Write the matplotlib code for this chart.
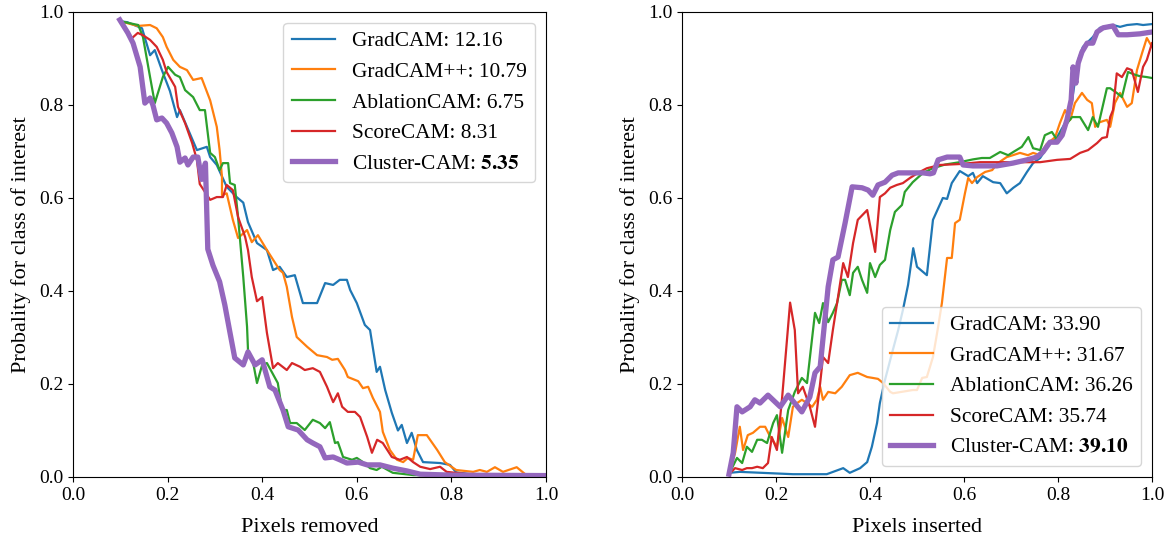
import matplotlib
matplotlib.use('Agg')
import matplotlib.pyplot as plt

# deletion curves (pixels removed)
del_gradcam_x = [0.10, 0.115, 0.146, 0.163, 0.173, 0.188, 0.205, 0.22, 0.226, 0.262, 0.283, 0.29, 0.304, 0.325, 0.346, 0.36, 0.37, 0.389, 0.41, 0.423, 0.437, 0.452, 0.469, 0.486, 0.516, 0.533, 0.55, 0.564, 0.579, 0.586, 0.60, 0.617, 0.628, 0.642, 0.649, 0.66, 0.674, 0.687, 0.695, 0.706, 0.716, 0.727, 0.74, 0.776, 0.797, 0.81, 0.85, 1.0]
del_gradcam_y = [0.98, 0.978, 0.965, 0.907, 0.918, 0.875, 0.83, 0.774, 0.789, 0.703, 0.71, 0.688, 0.671, 0.624, 0.602, 0.59, 0.548, 0.503, 0.488, 0.445, 0.452, 0.43, 0.434, 0.374, 0.374, 0.417, 0.413, 0.424, 0.424, 0.402, 0.374, 0.327, 0.316, 0.226, 0.237, 0.187, 0.138, 0.10, 0.112, 0.073, 0.095, 0.058, 0.032, 0.03, 0.026, 0.01, 0.005, 0.003]

del_gradcampp_x = [0.10, 0.137, 0.163, 0.177, 0.19, 0.198, 0.212, 0.226, 0.241, 0.254, 0.272, 0.29, 0.304, 0.31, 0.315, 0.315, 0.325, 0.338, 0.349, 0.368, 0.378, 0.391, 0.41, 0.437, 0.444, 0.452, 0.463, 0.473, 0.495, 0.516, 0.537, 0.548, 0.56, 0.575, 0.581, 0.603, 0.613, 0.624, 0.634, 0.649, 0.655, 0.67, 0.685, 0.698, 0.708, 0.719, 0.729, 0.748, 0.77, 0.786, 0.81, 0.846, 0.86, 0.875, 0.892, 0.909, 0.938, 0.956, 1.0]
del_gradcampp_y = [0.98, 0.97, 0.972, 0.965, 0.946, 0.925, 0.897, 0.882, 0.875, 0.854, 0.858, 0.81, 0.753, 0.703, 0.645, 0.606, 0.61, 0.553, 0.514, 0.531, 0.505, 0.52, 0.488, 0.445, 0.439, 0.409, 0.344, 0.301, 0.28, 0.262, 0.258, 0.252, 0.254, 0.23, 0.215, 0.206, 0.191, 0.194, 0.17, 0.14, 0.097, 0.058, 0.037, 0.032, 0.041, 0.037, 0.09, 0.09, 0.058, 0.032, 0.015, 0.011, 0.015, 0.011, 0.021, 0.011, 0.021, 0.006, 0.003]

del_ablation_x = [0.10, 0.138, 0.148, 0.163, 0.173, 0.19, 0.201, 0.216, 0.226, 0.237, 0.254, 0.268, 0.279, 0.29, 0.30, 0.31, 0.317, 0.328, 0.332, 0.342, 0.349, 0.36, 0.368, 0.37, 0.381, 0.389, 0.40, 0.41, 0.433, 0.442, 0.452, 0.459, 0.473, 0.49, 0.507, 0.522, 0.533, 0.543, 0.554, 0.56, 0.571, 0.59, 0.60, 0.613, 0.628, 0.642, 0.653, 0.676, 0.72, 1.0]
del_ablation_y = [0.98, 0.972, 0.946, 0.86, 0.804, 0.86, 0.882, 0.865, 0.86, 0.832, 0.817, 0.789, 0.789, 0.697, 0.688, 0.66, 0.675, 0.675, 0.632, 0.628, 0.559, 0.43, 0.323, 0.273, 0.245, 0.202, 0.241, 0.245, 0.202, 0.144, 0.144, 0.116, 0.116, 0.101, 0.123, 0.116, 0.105, 0.118, 0.073, 0.075, 0.043, 0.037, 0.041, 0.032, 0.019, 0.015, 0.022, 0.009, 0.004, 0.002]

del_score_x = [0.10, 0.125, 0.137, 0.148, 0.163, 0.177, 0.19, 0.198, 0.216, 0.222, 0.237, 0.252, 0.262, 0.268, 0.29, 0.304, 0.317, 0.325, 0.338, 0.349, 0.364, 0.37, 0.378, 0.389, 0.40, 0.41, 0.423, 0.433, 0.452, 0.463, 0.48, 0.49, 0.507, 0.522, 0.537, 0.55, 0.56, 0.569, 0.581, 0.596, 0.607, 0.622, 0.632, 0.643, 0.655, 0.674, 0.691, 0.706, 0.719, 0.734, 0.755, 0.776, 0.79, 0.818, 0.85, 1.0]
del_score_y = [0.98, 0.944, 0.955, 0.95, 0.94, 0.925, 0.897, 0.871, 0.839, 0.796, 0.761, 0.718, 0.682, 0.63, 0.596, 0.602, 0.602, 0.628, 0.617, 0.559, 0.516, 0.488, 0.43, 0.378, 0.387, 0.31, 0.234, 0.245, 0.23, 0.245, 0.237, 0.23, 0.234, 0.226, 0.194, 0.161, 0.18, 0.151, 0.14, 0.14, 0.129, 0.086, 0.052, 0.08, 0.073, 0.043, 0.037, 0.043, 0.032, 0.022, 0.017, 0.022, 0.011, 0.008, 0.004, 0.003]

del_cluster_x = [0.099, 0.116, 0.127, 0.142, 0.152, 0.163, 0.169, 0.177, 0.188, 0.198, 0.209, 0.22, 0.226, 0.237, 0.243, 0.254, 0.264, 0.272, 0.28, 0.285, 0.296, 0.31, 0.321, 0.332, 0.342, 0.36, 0.37, 0.385, 0.40, 0.416, 0.427, 0.444, 0.455, 0.476, 0.495, 0.507, 0.522, 0.533, 0.55, 0.564, 0.579, 0.603, 0.622, 0.649, 0.676, 0.706, 0.734, 0.8, 1.0]
del_cluster_y = [0.983, 0.955, 0.933, 0.882, 0.804, 0.815, 0.80, 0.768, 0.772, 0.761, 0.74, 0.71, 0.677, 0.686, 0.671, 0.688, 0.688, 0.64, 0.675, 0.49, 0.455, 0.42, 0.37, 0.31, 0.256, 0.241, 0.269, 0.241, 0.252, 0.194, 0.187, 0.144, 0.108, 0.101, 0.08, 0.073, 0.065, 0.041, 0.043, 0.037, 0.03, 0.032, 0.026, 0.026, 0.019, 0.013, 0.006, 0.004, 0.003]

# insertion curves (pixels inserted)
ins_gradcam_x = [0.102, 0.123, 0.236, 0.308, 0.343, 0.357, 0.379, 0.394, 0.404, 0.415, 0.421, 0.432, 0.447, 0.46, 0.47, 0.481, 0.492, 0.50, 0.521, 0.534, 0.555, 0.564, 0.574, 0.591, 0.609, 0.619, 0.628, 0.64, 0.662, 0.677, 0.691, 0.705, 0.719, 0.734, 0.747, 0.762, 0.783, 0.798, 0.819, 0.83, 0.843, 0.853, 0.874, 0.889, 0.917, 0.932, 0.947, 0.968, 0.981, 1.0]
ins_gradcam_y = [0.009, 0.011, 0.006, 0.006, 0.019, 0.009, 0.019, 0.032, 0.065, 0.116, 0.159, 0.209, 0.267, 0.316, 0.359, 0.413, 0.492, 0.452, 0.434, 0.553, 0.60, 0.598, 0.632, 0.658, 0.647, 0.654, 0.632, 0.647, 0.634, 0.632, 0.61, 0.622, 0.632, 0.656, 0.675, 0.686, 0.718, 0.731, 0.768, 0.811, 0.897, 0.925, 0.946, 0.966, 0.972, 0.968, 0.972, 0.974, 0.972, 0.974]

ins_gradcampp_x = [0.10, 0.113, 0.123, 0.13, 0.14, 0.151, 0.166, 0.177, 0.187, 0.202, 0.213, 0.226, 0.236, 0.245, 0.255, 0.266, 0.277, 0.287, 0.294, 0.30, 0.311, 0.326, 0.34, 0.357, 0.374, 0.394, 0.406, 0.417, 0.428, 0.443, 0.449, 0.491, 0.50, 0.511, 0.521, 0.534, 0.545, 0.553, 0.564, 0.574, 0.581, 0.591, 0.602, 0.609, 0.617, 0.628, 0.645, 0.66, 0.672, 0.691, 0.704, 0.719, 0.736, 0.747, 0.762, 0.775, 0.794, 0.804, 0.815, 0.826, 0.836, 0.851, 0.862, 0.872, 0.879, 0.889, 0.904, 0.911, 0.921, 0.932, 0.947, 0.957, 0.968, 0.979, 0.989, 1.0]
ins_gradcampp_y = [0.006, 0.052, 0.108, 0.058, 0.09, 0.095, 0.108, 0.108, 0.088, 0.065, 0.127, 0.086, 0.151, 0.159, 0.166, 0.159, 0.151, 0.166, 0.194, 0.166, 0.183, 0.18, 0.194, 0.219, 0.224, 0.215, 0.213, 0.211, 0.202, 0.183, 0.18, 0.187, 0.187, 0.213, 0.215, 0.258, 0.323, 0.374, 0.471, 0.471, 0.546, 0.553, 0.61, 0.643, 0.632, 0.645, 0.656, 0.66, 0.675, 0.688, 0.692, 0.697, 0.692, 0.697, 0.692, 0.715, 0.731, 0.761, 0.789, 0.768, 0.804, 0.826, 0.811, 0.804, 0.753, 0.763, 0.768, 0.753, 0.804, 0.826, 0.796, 0.804, 0.875, 0.912, 0.944, 0.925]

ins_ablation_x = [0.10, 0.117, 0.128, 0.138, 0.149, 0.16, 0.17, 0.181, 0.194, 0.202, 0.213, 0.226, 0.24, 0.255, 0.266, 0.283, 0.292, 0.30, 0.311, 0.321, 0.33, 0.34, 0.347, 0.357, 0.364, 0.374, 0.383, 0.394, 0.40, 0.411, 0.421, 0.432, 0.443, 0.453, 0.468, 0.474, 0.491, 0.513, 0.534, 0.56, 0.591, 0.619, 0.638, 0.655, 0.677, 0.694, 0.705, 0.723, 0.737, 0.747, 0.762, 0.772, 0.787, 0.798, 0.811, 0.83, 0.847, 0.864, 0.874, 0.885, 0.904, 0.911, 0.925, 0.936, 0.949, 0.964, 0.974, 0.989, 1.0]
ins_ablation_y = [0.006, 0.041, 0.03, 0.065, 0.054, 0.08, 0.08, 0.073, 0.116, 0.133, 0.052, 0.144, 0.183, 0.213, 0.202, 0.353, 0.331, 0.374, 0.333, 0.353, 0.374, 0.424, 0.424, 0.391, 0.439, 0.452, 0.424, 0.396, 0.46, 0.43, 0.456, 0.467, 0.531, 0.57, 0.585, 0.613, 0.634, 0.654, 0.664, 0.672, 0.677, 0.683, 0.686, 0.686, 0.699, 0.692, 0.699, 0.71, 0.731, 0.707, 0.703, 0.735, 0.742, 0.725, 0.75, 0.774, 0.774, 0.746, 0.774, 0.753, 0.836, 0.836, 0.826, 0.817, 0.871, 0.865, 0.862, 0.86, 0.858]

ins_score_x = [0.10, 0.113, 0.128, 0.138, 0.149, 0.16, 0.172, 0.183, 0.191, 0.202, 0.213, 0.23, 0.24, 0.247, 0.257, 0.272, 0.283, 0.294, 0.30, 0.311, 0.321, 0.332, 0.343, 0.353, 0.364, 0.374, 0.394, 0.411, 0.421, 0.432, 0.443, 0.457, 0.47, 0.485, 0.502, 0.521, 0.549, 0.591, 0.634, 0.704, 0.762, 0.798, 0.826, 0.847, 0.864, 0.883, 0.894, 0.904, 0.911, 0.917, 0.925, 0.936, 0.947, 0.957, 0.97, 0.981, 0.989, 1.0]
ins_score_y = [0.006, 0.019, 0.015, 0.019, 0.019, 0.022, 0.019, 0.03, 0.086, 0.058, 0.17, 0.375, 0.316, 0.18, 0.194, 0.151, 0.108, 0.202, 0.258, 0.245, 0.316, 0.387, 0.46, 0.43, 0.503, 0.553, 0.574, 0.484, 0.602, 0.61, 0.622, 0.628, 0.632, 0.643, 0.654, 0.664, 0.671, 0.673, 0.677, 0.677, 0.677, 0.682, 0.684, 0.697, 0.703, 0.718, 0.729, 0.731, 0.774, 0.789, 0.868, 0.86, 0.879, 0.875, 0.828, 0.882, 0.897, 0.933]

ins_cluster_x = [0.10, 0.109, 0.117, 0.128, 0.145, 0.155, 0.166, 0.183, 0.209, 0.226, 0.255, 0.272, 0.283, 0.294, 0.304, 0.311, 0.321, 0.332, 0.347, 0.362, 0.383, 0.396, 0.406, 0.417, 0.432, 0.447, 0.46, 0.485, 0.513, 0.528, 0.535, 0.545, 0.564, 0.591, 0.598, 0.619, 0.67, 0.704, 0.734, 0.755, 0.768, 0.783, 0.798, 0.809, 0.819, 0.828, 0.832, 0.838, 0.843, 0.851, 0.862, 0.874, 0.883, 0.896, 0.917, 0.928, 0.947, 0.974, 1.0]
ins_cluster_y = [0.006, 0.052, 0.151, 0.14, 0.151, 0.166, 0.159, 0.176, 0.151, 0.176, 0.14, 0.172, 0.224, 0.237, 0.338, 0.409, 0.467, 0.473, 0.546, 0.624, 0.622, 0.617, 0.606, 0.628, 0.634, 0.649, 0.654, 0.654, 0.654, 0.652, 0.654, 0.682, 0.688, 0.688, 0.671, 0.669, 0.669, 0.675, 0.682, 0.688, 0.699, 0.72, 0.72, 0.735, 0.768, 0.811, 0.882, 0.847, 0.89, 0.914, 0.933, 0.933, 0.957, 0.966, 0.97, 0.951, 0.951, 0.953, 0.957]

methods = ["GradCAM", "GradCAM++", "AblationCAM", "ScoreCAM", "Cluster-CAM"]
del_scores = ["12.16", "10.79", "6.75", "8.31", "5.35"]
ins_scores = ["33.90", "31.67", "36.26", "35.74", "39.10"]

colors = ["tab:blue", "tab:orange", "tab:green", "tab:red", "tab:purple"]

plt.rcParams['font.family'] = 'serif'
plt.rcParams['font.serif'] = ['Liberation Serif', 'DejaVu Serif']
plt.rcParams['mathtext.fontset'] = 'stix'

fig, (ax1, ax2) = plt.subplots(1, 2, figsize=(11.73, 5.4), dpi=100)
ax1.set_position([0.0622, 0.1167, 0.4655 - 0.0622, 0.9778 - 0.1167])
ax2.set_position([0.5814, 0.1167, 0.9821 - 0.5814, 0.9778 - 0.1167])

del_curves = [(del_gradcam_x, del_gradcam_y), (del_gradcampp_x, del_gradcampp_y),
              (del_ablation_x, del_ablation_y), (del_score_x, del_score_y),
              (del_cluster_x, del_cluster_y)]
ins_curves = [(ins_gradcam_x, ins_gradcam_y), (ins_gradcampp_x, ins_gradcampp_y),
              (ins_ablation_x, ins_ablation_y), (ins_score_x, ins_score_y),
              (ins_cluster_x, ins_cluster_y)]


def label_for(name, score, best):
  if best:
    return name + ": $\\mathbf{" + score + "}$"
  return name + ": " + score


for ax, curves, scores, xlabel, loc in [(ax1, del_curves, del_scores, "Pixels removed", "upper right"),
                                         (ax2, ins_curves, ins_scores, "Pixels inserted", "lower right")]:
  for i, (xs, ys) in enumerate(curves):
    best = methods[i] == "Cluster-CAM"
    ax.plot(xs, ys, color=colors[i], linewidth=3.8 if best else 1.6,
            label=label_for(methods[i], scores[i], best))
  ax.set_xlim(0, 1)
  ax.set_ylim(0, 1)
  ax.set_xticks([0.0, 0.2, 0.4, 0.6, 0.8, 1.0])
  ax.set_yticks([0.0, 0.2, 0.4, 0.6, 0.8, 1.0])
  ax.tick_params(labelsize=14)
  ax.set_xlabel(xlabel, fontsize=16, labelpad=10)
  ax.set_ylabel("Probality for class of interest", fontsize=16, labelpad=6)
  ax.legend(loc=loc, fontsize=15.4)

fig.savefig("out.png", dpi=100)
